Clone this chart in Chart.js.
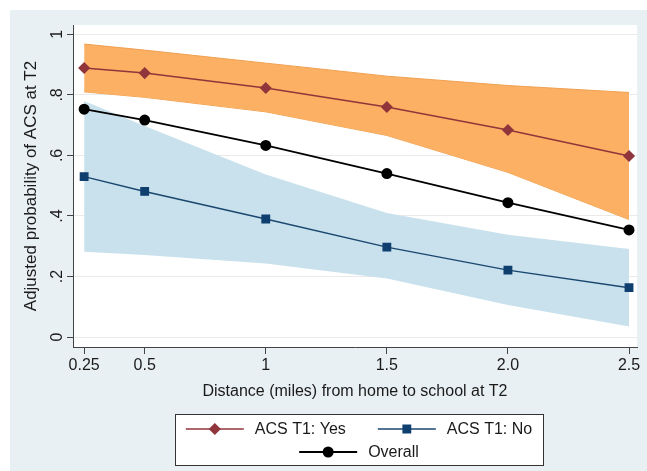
<!DOCTYPE html>
<html>
<head>
<meta charset="utf-8">
<script src="https://cdn.jsdelivr.net/npm/chart.js@4"></script>
<style>
  body { margin: 0; background: #fff; }
  #wrap { width: 647px; height: 471px; position: relative; }
</style>
</head>
<body>
<div id="wrap"><canvas id="myChart"></canvas></div>
<script>
// data
const distance = [0.25, 0.5, 1, 1.5, 2, 2.5];
const xTickLabels = ['0.25', '0.5', '1', '1.5', '2.0', '2.5'];
const yTicks = [0, 0.2, 0.4, 0.6, 0.8, 1];
const yTickLabels = ['0', '.2', '.4', '.6', '.8', '1'];

const yesProb  = [0.889, 0.872, 0.823, 0.760, 0.684, 0.598];
const yesUpper = [0.968, 0.948, 0.905, 0.862, 0.831, 0.808];
const yesLower = [0.810, 0.792, 0.744, 0.666, 0.544, 0.388];

const noProb  = [0.530, 0.481, 0.390, 0.297, 0.221, 0.163];
const noUpper = [0.780, 0.697, 0.537, 0.410, 0.338, 0.291];
const noLower = [0.282, 0.271, 0.243, 0.193, 0.106, 0.035];

const overall = [0.753, 0.717, 0.633, 0.540, 0.444, 0.354];

const FONT = "'Liberation Sans', Arial, sans-serif";

function pts(arr) {
  return distance.map((d, i) => ({ x: d, y: arr[i] }));
}

// stata-ish background: white margin, bluish gray graph region, white plot region
const bgPlugin = {
  id: 'bg',
  beforeDraw(chart) {
    const c = chart.ctx, a = chart.chartArea;
    c.save();
    c.fillStyle = '#ffffff';
    c.fillRect(0, 0, chart.width, chart.height);
    c.fillStyle = '#e8f0f3';
    c.fillRect(10, 10, chart.width - 10, chart.height - 10);
    c.fillStyle = '#ffffff';
    c.fillRect(a.left, a.top, a.right - a.left, a.bottom - a.top);
    c.restore();
  }
};

// y tick labels are rotated in the original, chart.js won't rotate y ticks
const yLabelPlugin = {
  id: 'ylabels',
  afterDraw(chart) {
    const c = chart.ctx, ys = chart.scales.y;
    c.save();
    c.font = '16px ' + FONT;
    c.fillStyle = '#1a1a1a';
    c.textAlign = 'center';
    c.textBaseline = 'middle';
    yTicks.forEach((v, i) => {
      const py = ys.getPixelForValue(v);
      c.save();
      c.translate(ys.right - 15, py);
      c.rotate(-Math.PI / 2);
      c.fillText(yTickLabels[i], 0, 0);
      c.restore();
    });
    c.restore();
  }
};

// boxed legend, 2 rows, line + marker samples
const legendPlugin = {
  id: 'boxLegend',
  afterDraw(chart) {
    const c = chart.ctx, a = chart.chartArea;
    const rows = [[0, 1], [2]];
    const sampleW = 58, gap = 11, itemGap = 32;
    c.save();
    c.font = '16px ' + FONT;
    const widthOf = i => sampleW + gap + c.measureText(chart.data.datasets[i].label).width;
    const rowW = rows.map(r => r.reduce((s, i) => s + widthOf(i), 0) + itemGap * (r.length - 1));
    const boxW = Math.max(...rowW) + 22;
    const cx = (a.left + a.right) / 2 + 4;
    const top = 414, rowH = 23;
    c.fillStyle = '#ffffff';
    c.fillRect(cx - boxW / 2, top, boxW, 51);
    c.strokeStyle = '#333';
    c.lineWidth = 1;
    c.strokeRect(Math.round(cx - boxW / 2) + 0.5, top + 0.5, Math.round(boxW), 51);
    rows.forEach((r, ri) => {
      let x = cx - rowW[ri] / 2;
      const y = top + 15 + ri * rowH;
      r.forEach(i => {
        const ds = chart.data.datasets[i];
        c.strokeStyle = ds.borderColor;
        c.lineWidth = ds.borderWidth;
        c.beginPath();
        c.moveTo(x, y);
        c.lineTo(x + sampleW, y);
        c.stroke();
        c.fillStyle = ds.pointBackgroundColor;
        c.strokeStyle = ds.pointBackgroundColor;
        Chart.helpers.drawPoint(c, { pointStyle: ds.pointStyle, radius: ds.pointRadius, rotation: 0, borderWidth: 1 }, x + sampleW / 2, y);
        c.fillStyle = '#1a1a1a';
        c.textAlign = 'left';
        c.textBaseline = 'middle';
        c.fillText(ds.label, x + sampleW + gap, y + 1);
        x += widthOf(i) + itemGap;
      });
    });
    c.restore();
  }
};

const ctx = document.getElementById('myChart');

new Chart(ctx, {
  type: 'line',
  data: {
    datasets: [
      {
        label: 'ACS T1: Yes',
        data: pts(yesProb),
        borderColor: '#90353b',
        borderWidth: 1.5,
        pointStyle: 'rectRot',
        pointRadius: 5,
        pointBackgroundColor: '#90353b',
        pointBorderColor: '#90353b',
        fill: false
      },
      {
        label: 'ACS T1: No',
        data: pts(noProb),
        borderColor: '#1a476f',
        borderWidth: 1.5,
        pointStyle: 'rect',
        pointRadius: 5.2,
        pointBackgroundColor: '#0f3f6e',
        pointBorderColor: '#0f3f6e',
        fill: false
      },
      {
        label: 'Overall',
        data: pts(overall),
        borderColor: '#000000',
        borderWidth: 1.8,
        pointStyle: 'circle',
        pointRadius: 4.6,
        pointBackgroundColor: '#000000',
        pointBorderColor: '#000000',
        fill: false
      },
      {
        label: 'No upper',
        data: pts(noUpper),
        borderWidth: 0,
        pointRadius: 0,
        backgroundColor: '#c9e1ec',
        fill: '+1'
      },
      {
        label: 'No lower',
        data: pts(noLower),
        borderWidth: 0,
        pointRadius: 0,
        fill: false
      },
      {
        label: 'Yes upper',
        data: pts(yesUpper),
        borderWidth: 1,
        borderColor: '#f0a050',
        pointRadius: 0,
        backgroundColor: '#fbb063',
        fill: '+1'
      },
      {
        label: 'Yes lower',
        data: pts(yesLower),
        borderWidth: 1,
        borderColor: '#f0a050',
        pointRadius: 0,
        fill: false
      }
    ]
  },
  options: {
    responsive: true,
    maintainAspectRatio: false,
    animation: false,
    events: [],
    layout: {
      padding: { top: 25, right: 10, bottom: 70, left: 21 }
    },
    plugins: {
      legend: false,
      tooltip: { enabled: false }
    },
    scales: {
      x: {
        type: 'linear',
        min: 0.204,
        max: 2.533,
        afterBuildTicks: s => { s.ticks = distance.map(v => ({ value: v })); },
        afterFit: s => { s.height = 54; s.paddingLeft = 0; s.paddingRight = 0; },
        ticks: {
          callback: (v, i) => xTickLabels[i],
          font: { family: FONT, size: 16 },
          color: '#1a1a1a',
          padding: 2,
          maxRotation: 0,
          autoSkip: false
        },
        grid: { drawOnChartArea: false, tickLength: 7, tickColor: '#444' },
        border: { color: '#444', width: 1 },
        title: {
          display: true,
          text: 'Distance (miles) from home to school at T2',
          font: { family: FONT, size: 16 },
          color: '#1a1a1a',
          padding: { top: 4, bottom: 0 }
        }
      },
      y: {
        min: -0.033,
        max: 1.031,
        afterBuildTicks: s => { s.ticks = yTicks.map(v => ({ value: v })); },
        afterFit: s => { s.width = 52; },
        ticks: { display: false },
        grid: { color: '#eaeaea', lineWidth: 1, tickLength: 6, tickColor: '#444' },
        border: { color: '#444', width: 1 },
        title: {
          display: true,
          text: 'Adjusted probability of ACS at T2',
          font: { family: FONT, size: 17 },
          color: '#1a1a1a',
          padding: { top: 0, bottom: 0 }
        }
      }
    }
  },
  plugins: [bgPlugin, yLabelPlugin, legendPlugin]
});
</script>
</body>
</html>
